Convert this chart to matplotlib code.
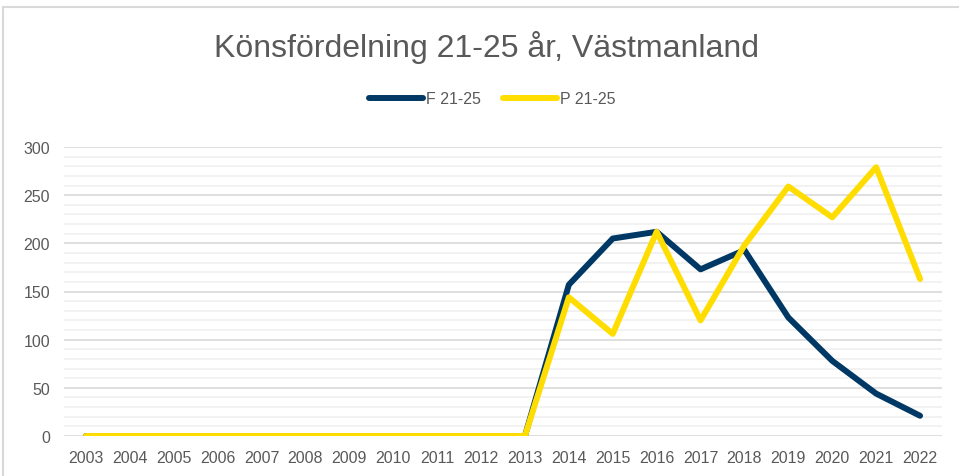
import matplotlib
matplotlib.use('Agg')
import matplotlib.pyplot as plt
from matplotlib.patches import Rectangle
from matplotlib.ticker import MultipleLocator

plt.rcParams['font.family'] = ['Liberation Sans', 'DejaVu Sans']

years = [str(y) for y in range(2003, 2023)]
f_values = [0, 0, 0, 0, 0, 0, 0, 0, 0, 0, 0, 157, 205, 212, 173, 193, 123, 78, 44, 21]
p_values = [0, 0, 0, 0, 0, 0, 0, 0, 0, 0, 0, 144, 106, 212, 120, 198, 259, 227, 279, 163]

text_color = '#595959'

fig = plt.figure(figsize=(9.59, 4.77), dpi=100)
# chart frame border (cropped)
fig.patches.append(Rectangle((3 / 959, -0.1), 1.2, 1 - 7.5 / 477 + 0.1, transform=fig.transFigure,
                             fill=False, edgecolor='#d9d9d9', linewidth=1.5))

ax = fig.add_axes([64 / 959, 1 - 437 / 477, (942 - 64) / 959, (437 - 148) / 477])
x = list(range(len(years)))
ax.plot(x, f_values, color='#003865', linewidth=4.3, solid_capstyle='round', solid_joinstyle='round',
        label='F 21-25', zorder=3)
ax.plot(x, p_values, color='#FFDD00', linewidth=4.3, solid_capstyle='round', solid_joinstyle='round',
        label='P 21-25', zorder=4)

ax.set_xlim(-0.5, len(years) - 0.5)
ax.set_ylim(0, 300)
ax.set_xticks(x)
ax.set_xticklabels(years)
ax.yaxis.set_major_locator(MultipleLocator(50))
ax.yaxis.set_minor_locator(MultipleLocator(10))
ax.grid(which='major', axis='y', color='#d9d9d9', linewidth=1.2)
ax.grid(which='minor', axis='y', color='#f0f0f0', linewidth=1.2)
ax.set_axisbelow(True)
for s in ax.spines.values():
    s.set_visible(False)
ax.tick_params(which='both', length=0, labelsize=11.5, labelcolor=text_color)
ax.tick_params(axis='y', pad=10)
ax.tick_params(axis='x', pad=10)

fig.text(486 / 959, 1 - 48 / 477, 'Könsfördelning 21-25 år, Västmanland', ha='center', va='center',
         fontsize=23, color=text_color)
fig.legend(loc='center', bbox_to_anchor=(492 / 959, 1 - 100 / 477), ncol=2, frameon=False,
           fontsize=11.5, labelcolor=text_color, handlelength=3.4, handletextpad=0.15, columnspacing=1.4)

fig.savefig('out.png', dpi=100)
